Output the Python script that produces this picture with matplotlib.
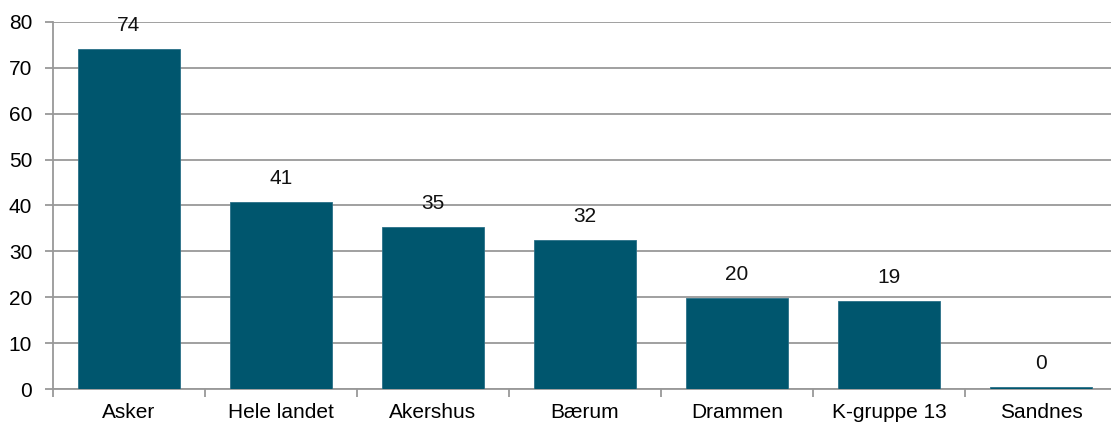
import numpy as np
import matplotlib
matplotlib.use("Agg")
from matplotlib import pyplot as plt

plt.rcParams['font.family'] = ['Liberation Sans', 'DejaVu Sans']

categories = ["Asker", "Hele landet", "Akershus", "Bærum", "Drammen", "K-gruppe 13", "Sandnes"]
values = [74.2, 40.8, 35.3, 32.4, 19.8, 19.2, 0.4]
labels = ["74", "41", "35", "32", "20", "19", "0"]
yticks = [0, 10, 20, 30, 40, 50, 60, 70, 80]

W, H = 1111, 423
fig = plt.figure(figsize=(W / 100, H / 100), dpi=100)
left, right, top, bottom = 53, 1117, 22, 389
ax = fig.add_axes([left / W, (H - bottom) / H, (right - left) / W, (bottom - top) / H])

x = np.arange(len(categories))
bar_color = "#00566E"
ax.bar(x, values, width=0.665, color=bar_color, edgecolor="#2a7088", linewidth=0.6, zorder=3)

fs = 15
for xi, v, lab in zip(x, values, labels):
    ax.annotate(lab, (xi, v), xytext=(0, 10), textcoords="offset points",
                ha="center", va="bottom", fontsize=fs, color="#111111", zorder=4)

ax.set_xlim(-0.5, len(categories) - 0.5)
ax.set_ylim(0, 80)
ax.set_yticks(yticks)
ax.set_yticklabels([str(t) for t in yticks], fontsize=fs)
ax.yaxis.grid(True, color="#999999", linewidth=1.3, zorder=0)
ax.set_axisbelow(True)

# category labels centred, tick marks on the boundaries
ax.set_xticks(x)
ax.set_xticklabels(categories, fontsize=fs)
ax.tick_params(axis="x", which="major", length=0, pad=10)
ax.set_xticks(np.arange(len(categories) + 1) - 0.5, minor=True)
ax.tick_params(axis="x", which="minor", length=6, width=1.3, color="#999999", direction="out")
ax.tick_params(axis="y", length=6, width=1.3, color="#999999", pad=9)

for s in ["top", "right"]:
    ax.spines[s].set_visible(False)
for s in ["left", "bottom"]:
    ax.spines[s].set_color("#999999")
    ax.spines[s].set_linewidth(1.3)

fig.savefig("out.png", dpi=100)
